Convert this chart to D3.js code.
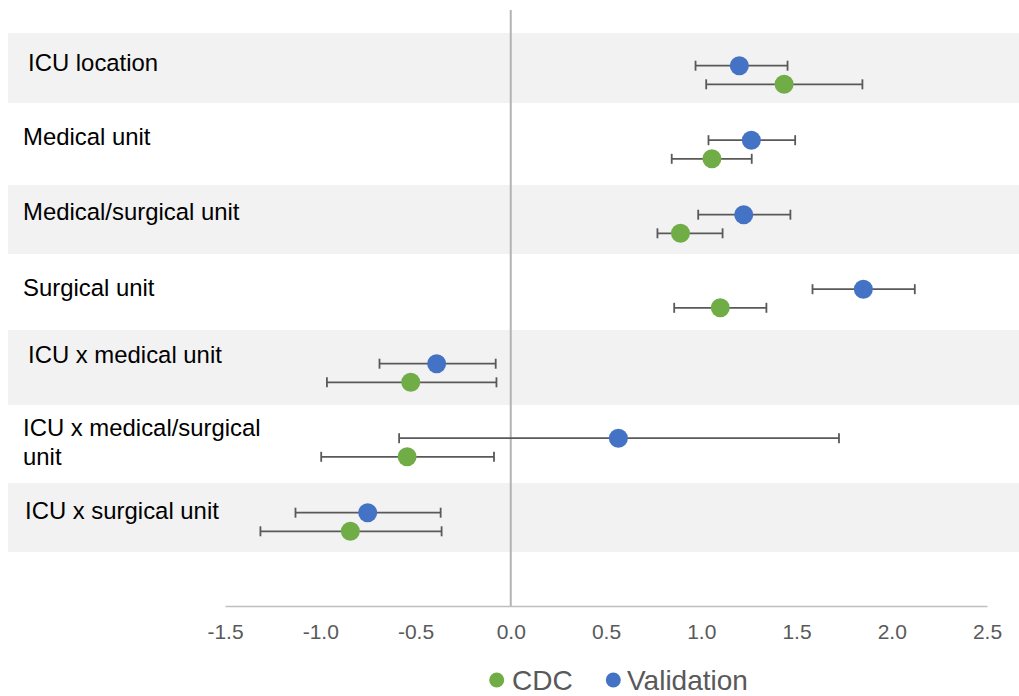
<!DOCTYPE html>
<html>
<head>
<meta charset="utf-8">
<script src="https://cdn.jsdelivr.net/npm/d3@7"></script>
<style>
  html, body { margin: 0; padding: 0; background: #fff; }
  svg { display: block; }
</style>
</head>
<body>
<svg id="chart" width="1019" height="696"></svg>
<script>
// Coefficient estimates (log odds) with 95% confidence intervals
const categories = [
  "ICU location",
  "Medical unit",
  "Medical/surgical unit",
  "Surgical unit",
  "ICU x medical unit",
  "ICU x medical/surgical unit",
  "ICU x surgical unit"
];
const cdcEstimate   = [1.435, 1.056, 0.891, 1.100, -0.525, -0.544, -0.842];
const cdcLower      = [1.026, 0.845, 0.770, 0.858, -0.965, -0.995, -1.314];
const cdcUpper      = [1.846, 1.265, 1.112, 1.342, -0.075, -0.088, -0.363];
const valEstimate   = [1.200, 1.263, 1.223, 1.851, -0.389, 0.565, -0.751];
const valLower      = [0.970, 1.038, 0.984, 1.584, -0.689, -0.586, -1.130];
const valUpper      = [1.453, 1.493, 1.468, 2.121, -0.079, 1.723, -0.368];
const xTicks        = [-1.5, -1.0, -0.5, 0.0, 0.5, 1.0, 1.5, 2.0, 2.5];
const seriesNames   = ["CDC", "Validation"];

// Table rows behind the plot: top/bottom edge, label lines and baselines
const rowLayout = [
  { top: 33,  bottom: 103, x: 28, base: 70.7, lines: ["ICU location"] },
  { top: 103, bottom: 185, x: 23, base: 145,  lines: ["Medical unit"] },
  { top: 185, bottom: 254, x: 23, base: 220,  lines: ["Medical/surgical unit"] },
  { top: 254, bottom: 330, x: 23, base: 296,  lines: ["Surgical unit"] },
  { top: 330, bottom: 405, x: 28, base: 363,  lines: ["ICU x medical unit"] },
  { top: 405, bottom: 483, x: 23, base: 435.5, lines: ["ICU x medical/surgical", "unit"] },
  { top: 483, bottom: 552, x: 25, base: 519.3, lines: ["ICU x surgical unit"] }
];

const colors = { CDC: "#70ad47", Validation: "#4472c4" };
const barColor = "#595959";

const svg = d3.select("#chart");

// Scales
const x = d3.scaleLinear().domain([-1.5, 2.5]).range([225, 987]);
const y = d3.scalePoint().domain(categories).range([75, 522]);
const seriesOffset = { Validation: -9.3, CDC: 9.3 };

// Alternating shaded rows
svg.append("g").selectAll("rect")
  .data(rowLayout.filter((d, i) => i % 2 === 0))
  .join("rect")
  .attr("x", 8)
  .attr("y", d => d.top)
  .attr("width", 1019 - 8)
  .attr("height", d => d.bottom - d.top)
  .attr("fill", "#f2f2f2");

// Row labels
const labels = svg.append("g")
  .attr("font-family", "'Liberation Sans', Arial, sans-serif")
  .attr("font-size", 23.9)
  .attr("fill", "#000");
rowLayout.forEach((r, i) => {
  const t = labels.append("text").attr("x", r.x).attr("y", r.base);
  r.lines.forEach((line, j) => {
    t.append("tspan").attr("x", r.x).attr("dy", j === 0 ? 0 : 29.5).text(line);
  });
});

// Horizontal axis
const xAxis = d3.axisBottom(x)
  .tickValues(xTicks)
  .tickFormat(d3.format(".1f"))
  .tickSize(0)
  .tickPadding(28);
const axisG = svg.append("g")
  .attr("transform", "translate(0,606)")
  .call(xAxis);
axisG.select(".domain").attr("stroke", "#bfbfbf").attr("stroke-width", 1.5);
axisG.selectAll("text")
  .attr("font-family", "'Liberation Sans', Arial, sans-serif")
  .attr("font-size", 21)
  .attr("fill", "#595959")
  .attr("dy", "0.22em")
  .text(d => d3.format(".1f")(d).replace("−", "-"));

// Vertical line at zero
svg.append("line")
  .attr("x1", x(0)).attr("x2", x(0))
  .attr("y1", 10).attr("y2", 606)
  .attr("stroke", "#b3b3b3")
  .attr("stroke-width", 2);

// Build per-series records
const records = [];
categories.forEach((c, i) => {
  records.push({ series: "Validation", cat: c, est: valEstimate[i], lo: valLower[i], hi: valUpper[i] });
  records.push({ series: "CDC", cat: c, est: cdcEstimate[i], lo: cdcLower[i], hi: cdcUpper[i] });
});
const yPos = d => y(d.cat) + seriesOffset[d.series];

// Error bars
const bars = svg.append("g")
  .attr("stroke", barColor)
  .attr("stroke-width", 1.8)
  .attr("fill", "none");
bars.selectAll("line.whisker")
  .data(records).join("line")
  .attr("class", "whisker")
  .attr("x1", d => x(d.lo)).attr("x2", d => x(d.hi))
  .attr("y1", yPos).attr("y2", yPos);
bars.selectAll("line.capLo")
  .data(records).join("line")
  .attr("class", "capLo")
  .attr("x1", d => x(d.lo)).attr("x2", d => x(d.lo))
  .attr("y1", d => yPos(d) - 5).attr("y2", d => yPos(d) + 5);
bars.selectAll("line.capHi")
  .data(records).join("line")
  .attr("class", "capHi")
  .attr("x1", d => x(d.hi)).attr("x2", d => x(d.hi))
  .attr("y1", d => yPos(d) - 5).attr("y2", d => yPos(d) + 5);

// Point estimates
svg.append("g").selectAll("circle")
  .data(records).join("circle")
  .attr("cx", d => x(d.est))
  .attr("cy", yPos)
  .attr("r", 9.5)
  .attr("fill", d => colors[d.series]);

// Legend
const legend = svg.append("g")
  .attr("font-family", "'Liberation Sans', Arial, sans-serif")
  .attr("font-size", 28)
  .attr("fill", "#595959");
const legendItems = [
  { name: seriesNames[0], dotX: 496.7, textX: 512 },
  { name: seriesNames[1], dotX: 613.3, textX: 627 }
];
legendItems.forEach(it => {
  legend.append("circle")
    .attr("cx", it.dotX).attr("cy", 680).attr("r", 7.5)
    .attr("fill", colors[it.name]);
  legend.append("text")
    .attr("x", it.textX).attr("y", 690)
    .text(it.name);
});
</script>
</body>
</html>
